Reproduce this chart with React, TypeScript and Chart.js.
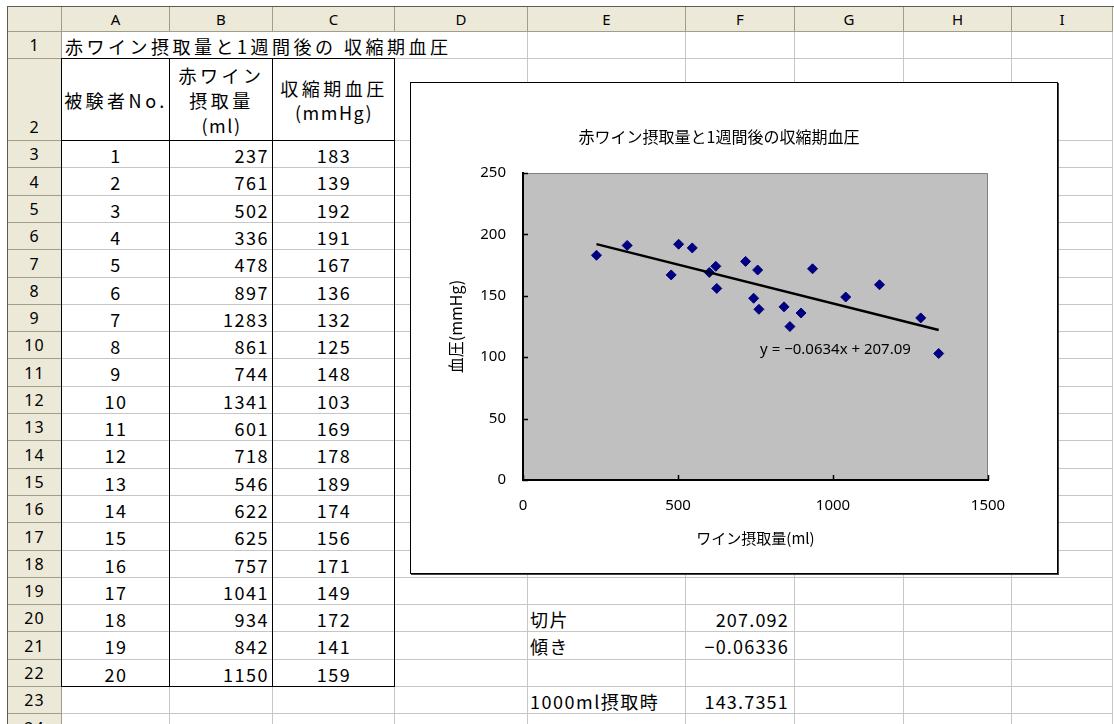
import React, { useEffect, useRef } from "react";
import { Chart, registerables } from "chart.js";

Chart.register(...registerables);

// ---------- data ----------
const sheetTitle = "赤ワイン摂取量と1週間後の 収縮期血圧";
const chartTitle = "赤ワイン摂取量と1週間後の収縮期血圧";
const columnLetters = ["A", "B", "C", "D", "E", "F", "G", "H", "I"];
const headerSubject = "被験者No.";
const headerIntake = ["赤ワイン", "摂取量", "(ml)"];
const headerPressure = ["収縮期血圧", "(mmHg)"];
const subjectNos = [1, 2, 3, 4, 5, 6, 7, 8, 9, 10, 11, 12, 13, 14, 15, 16, 17, 18, 19, 20];
const wineIntake = [237, 761, 502, 336, 478, 897, 1283, 861, 744, 1341, 601, 718, 546, 622, 625, 757, 1041, 934, 842, 1150];
const systolicBP = [183, 139, 192, 191, 167, 136, 132, 125, 148, 103, 169, 178, 189, 174, 156, 171, 149, 172, 141, 159];
const xTicks = [0, 500, 1000, 1500];
const yTicks = [0, 50, 100, 150, 200, 250];
const trendX = [237, 1341];
const trendY = [192.07, 122.12];
const trendLabel = "y = −0.0634x + 207.09";
const trendLabelPos = [1008, 106];
const xAxisTitle = "ワイン摂取量(ml)";
const yAxisTitle = "血圧(mmHg)";
const statRows = [20, 21, 23];
const statLabels = ["切片", "傾き", "1000ml摂取時"];
const statValues = ["207.092", "−0.06336", "143.7351"];

// ---------- layout ----------
const FONT_JP = "'Noto Sans CJK JP', 'Noto Sans', sans-serif";
const COL_EDGES = [8, 62, 170, 273, 395, 528, 686, 795, 904, 1012, 1113];
const HEADER_TOP = 7;
const HEADER_BOTTOM = 32;
function rowTop(r: number): number {
  if (r === 1) return 32;
  if (r === 2) return 59;
  return Math.round(141 + (r - 3) * 27.3);
}
const LAST_ROW = 25;
const GRID = "#C6C6C6";
const HDR_BG = "#ECE9D8";
const HDR_LINE = "#A09D8B";

function box(x: number, y: number, w: number, h: number, extra: any = {}): any {
  return { position: "absolute", left: x, top: y, width: w, height: h, boxSizing: "border-box", ...extra };
}

function ScatterChart() {
  const ref = useRef<HTMLCanvasElement>(null);
  useEffect(() => {
    const canvas = ref.current!;
    const deco = {
      id: "deco",
      beforeDraw(chart: any) {
        const { ctx, chartArea: a } = chart;
        ctx.save();
        ctx.fillStyle = "#C0C0C0";
        ctx.fillRect(a.left, a.top, a.right - a.left, a.bottom - a.top);
        ctx.strokeStyle = "#808080";
        ctx.lineWidth = 1;
        ctx.beginPath();
        ctx.moveTo(a.left, a.top + 0.5);
        ctx.lineTo(a.right - 0.5, a.top + 0.5);
        ctx.lineTo(a.right - 0.5, a.bottom);
        ctx.stroke();
        ctx.restore();
      },
      afterDraw(chart: any) {
        const { ctx, chartArea: a, scales } = chart;
        ctx.save();
        ctx.strokeStyle = "#000";
        ctx.lineWidth = 1.5;
        ctx.beginPath();
        for (const v of xTicks) {
          const px = Math.round(scales.x.getPixelForValue(v)) + 0.5;
          ctx.moveTo(px, a.bottom);
          ctx.lineTo(px, a.bottom - 5);
        }
        for (const v of yTicks) {
          const py = Math.round(scales.y.getPixelForValue(v)) + 0.5;
          ctx.moveTo(a.left, py);
          ctx.lineTo(a.left + 5, py);
        }
        ctx.stroke();
        ctx.fillStyle = "#000";
        ctx.font = "15px 'Noto Sans', sans-serif";
        ctx.textAlign = "center";
        ctx.textBaseline = "middle";
        ctx.fillText(
          trendLabel,
          scales.x.getPixelForValue(trendLabelPos[0]),
          scales.y.getPixelForValue(trendLabelPos[1])
        );
        ctx.font = "16px " + FONT_JP;
        ctx.fillText(chartTitle, 308, 54);
        ctx.restore();
      },
    };
    const chart = new Chart(canvas, {
      type: "scatter",
      data: {
        datasets: [
          {
            label: "trend",
            data: trendX.map((x, i) => ({ x, y: trendY[i] })),
            showLine: true,
            borderColor: "#000",
            borderWidth: 2.5,
            pointRadius: 0,
            fill: false,
          } as any,
          {
            label: "data",
            data: wineIntake.map((x, i) => ({ x, y: systolicBP[i] })),
            pointStyle: "rectRot",
            pointRadius: 5,
            backgroundColor: "#000080",
            borderColor: "#000080",
            borderWidth: 1,
            showLine: false,
          },
        ],
      },
      options: {
        animation: false,
        responsive: false,
        maintainAspectRatio: false,
        layout: { padding: { left: 0, right: 69, top: 90, bottom: 0 } },
        plugins: { legend: { display: false }, tooltip: { enabled: false }, title: { display: false } },
        scales: {
          x: {
            type: "linear",
            min: 0,
            max: 1500,
            afterBuildTicks: (s: any) => {
              s.ticks = xTicks.map((v) => ({ value: v }));
            },
            ticks: {
              color: "#000",
              padding: 17,
              maxRotation: 0,
              font: { size: 15, family: "'Noto Sans', sans-serif" },
              callback: (v: any) => String(v),
            },
            grid: { display: false, drawTicks: false },
            border: { display: true, color: "#000", width: 2 },
            title: {
              display: true,
              text: xAxisTitle,
              color: "#000",
              font: { size: 15, family: FONT_JP },
              padding: { top: 0, bottom: 26 },
            },
            afterFit: (s: any) => {
              s.height = 93;
            },
          },
          y: {
            type: "linear",
            min: 0,
            max: 250,
            afterBuildTicks: (s: any) => {
              s.ticks = yTicks.map((v) => ({ value: v }));
            },
            ticks: {
              color: "#000",
              padding: 17,
              font: { size: 15, family: "'Noto Sans', sans-serif" },
              callback: (v: any) => String(v),
            },
            grid: { display: false, drawTicks: false },
            border: { display: true, color: "#000", width: 2 },
            title: {
              display: true,
              text: yAxisTitle,
              color: "#000",
              font: { size: 16, family: FONT_JP },
              padding: { top: 35, bottom: 0 },
            },
            afterFit: (s: any) => {
              s.width = 112;
            },
          },
        },
      },
      plugins: [deco],
    } as any);
    return () => chart.destroy();
  }, []);
  return <canvas ref={ref} width={646} height={490} style={{ display: "block", width: 646, height: 490 }} />;
}

export default function App() {
  const els: any[] = [];
  const textBase: any = {
    fontFamily: FONT_JP,
    fontSize: 18,
    color: "#000",
    display: "flex",
    alignItems: "center",
    whiteSpace: "nowrap",
  };
  // header row
  els.push(
    <div key="corner" style={box(COL_EDGES[0], HEADER_TOP, COL_EDGES[1] - COL_EDGES[0], HEADER_BOTTOM - HEADER_TOP, {
      background: HDR_BG, borderRight: `1px solid ${HDR_LINE}`, borderBottom: `1px solid ${HDR_LINE}`,
    })} />
  );
  columnLetters.forEach((c, i) => {
    const x0 = COL_EDGES[i + 1];
    const x1 = COL_EDGES[i + 2];
    els.push(
      <div key={"ch" + c} style={box(x0, HEADER_TOP, x1 - x0, HEADER_BOTTOM - HEADER_TOP, {
        background: HDR_BG, borderRight: `1px solid ${HDR_LINE}`, borderBottom: `1px solid ${HDR_LINE}`,
        ...textBase, fontFamily: "'Noto Sans', sans-serif", fontSize: 15, justifyContent: "center",
      })}>{c}</div>
    );
  });
  // row headers and grid
  for (let r = 1; r <= LAST_ROW - 1; r++) {
    const y0 = rowTop(r);
    const y1 = rowTop(r + 1);
    els.push(
      <div key={"rh" + r} style={box(COL_EDGES[0], y0, COL_EDGES[1] - COL_EDGES[0], y1 - y0, {
        background: HDR_BG, borderRight: `1px solid ${HDR_LINE}`, borderBottom: `1px solid ${HDR_LINE}`,
        ...textBase, fontFamily: "'Noto Sans', sans-serif", fontSize: 16, letterSpacing: 1,
        justifyContent: "center", alignItems: r === 2 ? "flex-end" : "center", paddingBottom: r === 2 ? 2 : 0,
      })}>{r}</div>
    );
    for (let c = 0; c < columnLetters.length; c++) {
      const x0 = COL_EDGES[c + 1];
      const x1 = COL_EDGES[c + 2];
      const hideRight = r === 1 && c < 3;
      els.push(
        <div key={`g${r}_${c}`} style={box(x0, y0, x1 - x0, y1 - y0, {
          background: "#fff",
          borderRight: hideRight ? "none" : `1px solid ${GRID}`,
          borderBottom: `1px solid ${GRID}`,
        })} />
      );
    }
  }
  // black borders of the table A2:C22
  const tTop = rowTop(2) - 1;
  const tMid = rowTop(3) - 1;
  const tBot = rowTop(23) - 1;
  const tLeft = COL_EDGES[1] - 1;
  const tRight = COL_EDGES[4] - 1;
  [tTop, tMid, tBot].forEach((y, i) =>
    els.push(<div key={"bh" + i} style={box(tLeft, y, tRight - tLeft + 1, 1, { background: "#000" })} />)
  );
  [tLeft, COL_EDGES[2] - 1, COL_EDGES[3] - 1, tRight].forEach((x, i) =>
    els.push(<div key={"bv" + i} style={box(x, tTop, 1, tBot - tTop + 1, { background: "#000" })} />)
  );
  // texts
  els.push(
    <div key="title" style={box(COL_EDGES[1], rowTop(1), 480, rowTop(2) - rowTop(1), {
      ...textBase, letterSpacing: 3.5, paddingLeft: 3,
    })}>{sheetTitle}</div>
  );
  els.push(
    <div key="h1" style={box(COL_EDGES[1], rowTop(2), COL_EDGES[2] - COL_EDGES[1], rowTop(3) - rowTop(2), {
      ...textBase, letterSpacing: 3.5, justifyContent: "center",
    })}>{headerSubject}</div>
  );
  els.push(
    <div key="h2" style={box(COL_EDGES[2], rowTop(2), COL_EDGES[3] - COL_EDGES[2], rowTop(3) - rowTop(2), {
      ...textBase, flexDirection: "column", justifyContent: "center", lineHeight: "25px", letterSpacing: 3.5,
    })}>
      {headerIntake.map((t, i) => (
        <div key={i} style={{ letterSpacing: i === 2 ? 1.5 : 3.5 }}>{t}</div>
      ))}
    </div>
  );
  els.push(
    <div key="h3" style={box(COL_EDGES[3], rowTop(2), COL_EDGES[4] - COL_EDGES[3], rowTop(3) - rowTop(2), {
      ...textBase, flexDirection: "column", justifyContent: "center", lineHeight: "24px",
    })}>
      {headerPressure.map((t, i) => (
        <div key={i} style={{ letterSpacing: i === 1 ? 1.5 : 3.5 }}>{t}</div>
      ))}
    </div>
  );
  subjectNos.forEach((n, i) => {
    const r = i + 3;
    const y0 = rowTop(r);
    const h = rowTop(r + 1) - y0;
    els.push(
      <div key={"a" + r} style={box(COL_EDGES[1], y0, COL_EDGES[2] - COL_EDGES[1], h, {
        ...textBase, letterSpacing: 1.5, justifyContent: "center",
      })}>{n}</div>
    );
    els.push(
      <div key={"b" + r} style={box(COL_EDGES[2], y0, COL_EDGES[3] - COL_EDGES[2], h, {
        ...textBase, letterSpacing: 1.5, justifyContent: "flex-end", paddingRight: 4,
      })}>{wineIntake[i]}</div>
    );
    els.push(
      <div key={"c" + r} style={box(COL_EDGES[3], y0, COL_EDGES[4] - COL_EDGES[3], h, {
        ...textBase, letterSpacing: 1.5, justifyContent: "center",
      })}>{systolicBP[i]}</div>
    );
  });
  statRows.forEach((r, i) => {
    const y0 = rowTop(r);
    const h = rowTop(r + 1) - y0;
    els.push(
      <div key={"e" + r} style={box(COL_EDGES[5], y0, 200, h, {
        ...textBase, letterSpacing: 1.5, paddingLeft: 2,
      })}>{statLabels[i]}</div>
    );
    els.push(
      <div key={"f" + r} style={box(COL_EDGES[6], y0, COL_EDGES[7] - COL_EDGES[6], h, {
        ...textBase, letterSpacing: 1.2, justifyContent: "flex-end", paddingRight: 6,
      })}>{statValues[i]}</div>
    );
  });
  // sheet outer frame lines
  els.push(<div key="ft" style={box(COL_EDGES[0] - 1, HEADER_TOP - 1, 1114, 1, { background: "#5E5C50" })} />);
  els.push(<div key="fl" style={box(COL_EDGES[0] - 1, HEADER_TOP - 1, 1, 724, { background: "#5E5C50" })} />);
  // chart
  els.push(
    <div key="chart" style={box(410, 82, 648, 492, {
      background: "#fff", border: "1px solid #000", boxShadow: "1px 1px 0 #444",
    })}>
      <ScatterChart />
    </div>
  );
  return (
    <div style={{ position: "fixed", left: 0, top: 0, width: 1114, height: 724, overflow: "hidden", background: "#fff" }}>
      {els}
    </div>
  );
}
